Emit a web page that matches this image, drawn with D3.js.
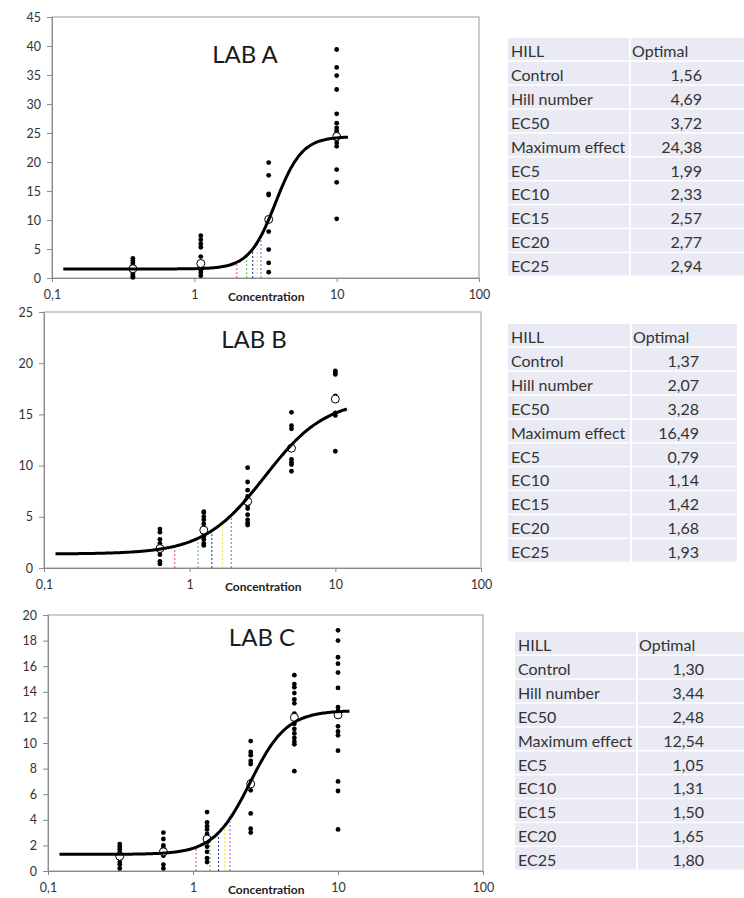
<!DOCTYPE html>
<html><head><meta charset="utf-8">
<script src="https://cdn.jsdelivr.net/npm/d3@7"></script>
<style>
html,body{margin:0;padding:0;background:#fff;}
svg{display:block;font-family:Lato, "Open Sans", sans-serif;}
</style></head>
<body>
<svg id="chart" width="744" height="898"></svg>
<script>
// ---------- data ----------
const labNames = ["LAB A", "LAB B", "LAB C"];
const controlVals = [1.56, 1.37, 1.30];
const hillVals = [4.69, 2.07, 3.44];
const ec50Vals = [3.72, 3.28, 2.48];
const maxEffectVals = [24.38, 16.49, 12.54];
const ecLevels = ["EC5", "EC10", "EC15", "EC20", "EC25"];
const ecA = [1.99, 2.33, 2.57, 2.77, 2.94];
const ecB = [0.79, 1.14, 1.42, 1.68, 1.93];
const ecC = [1.05, 1.31, 1.50, 1.65, 1.80];
const tableRowLabels = ["Control", "Hill number", "EC50", "Maximum effect", "EC5", "EC10", "EC15", "EC20", "EC25"];
const tableHeader = ["HILL", "Optimal"];

const xTickValues = [0.1, 1, 10, 100];
const xTickLabels = ["0,1", "1", "10", "100"];
const yMaxVals = [45, 25, 20];
const yStepVals = [5, 5, 2];
const curveRange = [0.12, 12];

// observed responses per concentration
const concA = [0.37, 1.11, 3.33, 10];
const obsA = [
  [3.4, 3.0, 2.6, 2.2, 1.8, 1.5, 1.2, 0.9, 0.6, 0.3, 0.1],
  [7.3, 6.6, 5.9, 5.3, 3.7, 2.0, 1.3, 0.9, 0.4],
  [19.9, 17.7, 14.5, 14.3, 10.2, 8.0, 4.9, 2.6, 1.0],
  [39.4, 36.3, 34.9, 32.5, 28.3, 26.7, 25.9, 25.4, 25.0, 23.9, 23.3, 22.7, 18.7, 16.5, 10.2]
];
const meanA = [1.6, 2.5, 10.1, 24.4];

const concB = [0.625, 1.25, 2.5, 5, 10];
const obsB = [
  [3.8, 3.5, 2.8, 2.4, 1.9, 1.7, 1.3, 0.65, 0.4],
  [5.5, 5.4, 5.0, 4.7, 4.3, 3.9, 3.4, 3.1, 2.8, 2.4, 2.2],
  [9.8, 8.4, 7.6, 7.0, 6.1, 5.8, 5.2, 4.7, 4.4, 4.2],
  [15.2, 13.9, 13.6, 10.6, 10.3, 10.1, 9.45],
  [19.25, 19.05, 18.9, 16.8, 15.15, 14.9, 11.4]
];
const meanB = [1.9, 3.7, 6.5, 11.7, 16.5];

const concC = [0.3125, 0.625, 1.25, 2.5, 5, 10];
const obsC = [
  [2.1, 1.9, 1.7, 1.45, 1.1, 0.7, 0.5, 0.2],
  [3.0, 2.5, 2.0, 1.8, 1.5, 1.2, 0.5, 0.2],
  [4.6, 3.8, 3.5, 3.25, 2.9, 2.6, 2.25, 1.9, 1.5, 1.0, 0.7],
  [10.15, 9.3, 9.05, 8.6, 8.35, 7.0, 6.7, 6.3, 4.5, 3.3, 3.0],
  [15.3, 14.6, 14.35, 13.9, 13.4, 13.1, 12.3, 11.5, 11.1, 10.75, 10.4, 10.1, 9.9, 7.8],
  [18.8, 18.0, 16.7, 16.2, 15.5, 14.3, 12.8, 12.5, 11.3, 10.9, 10.6, 9.4, 7.0, 6.25, 3.25]
];
const meanC = [1.15, 1.5, 2.5, 6.8, 12.0, 12.2];

// ---------- layout ----------
const ecColors = ["#d6456e", "#4fbf4f", "#23308f", "#e8df55", "#9a4fd6"];
const panels = [
  {x0: 52, x1: 479, yTop: 17, yBot: 278, titleX: 245, titleY: 63, conc: concA, obs: obsA, mean: meanA, ec: ecA,
   table: {x: 508, y: 38, split: 630, right: 745, valRight: 702}},
  {x0: 44, x1: 481, yTop: 312, yBot: 568, titleX: 254, titleY: 348, conc: concB, obs: obsB, mean: meanB, ec: ecB,
   table: {x: 508, y: 324, split: 631, right: 737, valRight: 699}},
  {x0: 48, x1: 483, yTop: 615, yBot: 871, titleX: 262, titleY: 646, conc: concC, obs: obsC, mean: meanC, ec: ecC,
   table: {x: 515, y: 632, split: 637, right: 745, valRight: 704}}
];
const rowH = 23.9;
const fmt = v => d3.format(".2f")(v).replace(".", ",");

const svg = d3.select("#chart");

panels.forEach((p, i) => {
  const g = svg.append("g");
  const x = d3.scaleLog().domain([0.1, 100]).range([p.x0, p.x1]);
  const y = d3.scaleLinear().domain([0, yMaxVals[i]]).range([p.yBot, p.yTop]);
  const c = controlVals[i], m = maxEffectVals[i], h = hillVals[i], e50 = ec50Vals[i];
  const hillFn = xx => c + (m - c) * Math.pow(xx, h) / (Math.pow(e50, h) + Math.pow(xx, h));

  // plot frame
  g.append("rect").attr("x", p.x0).attr("y", p.yTop).attr("width", p.x1 - p.x0).attr("height", p.yBot - p.yTop)
    .attr("fill", "none").attr("stroke", "#9a9a9a").attr("stroke-width", 1);

  // y axis
  const yTicks = d3.range(0, yMaxVals[i] + 0.001, yStepVals[i]);
  const ya = g.append("g").attr("transform", `translate(${p.x0},0)`)
    .call(d3.axisLeft(y).tickValues(yTicks).tickSize(5).tickPadding(6).tickFormat(d3.format("d")));
  ya.select(".domain").attr("stroke", "#8a8a8a");
  ya.selectAll(".tick line").attr("stroke", "#8a8a8a");
  ya.selectAll("text").attr("font-size", 12.5).attr("fill", "#333").style("font-family", "Lato, sans-serif");

  // x axis
  const xa = g.append("g").attr("transform", `translate(0,${p.yBot})`)
    .call(d3.axisBottom(x).tickValues(xTickValues).tickSize(4).tickPadding(8)
      .tickFormat((d, k) => xTickLabels[k]));
  xa.select(".domain").attr("stroke", "#8a8a8a");
  xa.selectAll(".tick line").attr("stroke", "#8a8a8a");
  xa.selectAll("text").attr("font-size", 12.5).attr("fill", "#333").style("font-family", "Lato, sans-serif");

  g.append("text").attr("x", x(3.2)).attr("y", p.yBot + 23).attr("text-anchor", "middle")
    .attr("font-size", 12).attr("font-weight", "bold").attr("fill", "#222").text("Concentration");

  // title
  g.append("text").attr("x", p.titleX).attr("y", p.titleY).attr("text-anchor", "middle")
    .attr("font-size", 24).attr("fill", "#1a1a1a").text(labNames[i]);

  // EC dashed lines
  g.selectAll(".ecline").data(p.ec).enter().append("line")
    .attr("x1", d => x(d)).attr("x2", d => x(d))
    .attr("y1", y(0)).attr("y2", d => y(hillFn(d)))
    .attr("stroke", (d, k) => ecColors[k]).attr("stroke-width", 1).attr("stroke-dasharray", "2,2");

  // observed points
  const pts = [];
  p.conc.forEach((cc, k) => p.obs[k].forEach(v => pts.push([cc, v])));
  g.selectAll(".dot").data(pts).enter().append("circle")
    .attr("cx", d => x(d[0])).attr("cy", d => y(d[1])).attr("r", 2.4).attr("fill", "#000");

  // means
  g.selectAll(".mean").data(p.conc).enter().append("circle")
    .attr("cx", d => x(d)).attr("cy", (d, k) => y(p.mean[k])).attr("r", 4)
    .attr("fill", "#fff").attr("stroke", "#000").attr("stroke-width", 1);

  // fitted curve
  const lx = d3.scaleLog().domain(curveRange);
  const curvePts = d3.range(0, 1.0001, 1 / 200).map(t => lx.invert(t));
  g.append("path").datum(curvePts)
    .attr("d", d3.line().x(d => x(d)).y(d => y(hillFn(d))).curve(d3.curveBasis))
    .attr("fill", "none").attr("stroke", "#000").attr("stroke-width", 3);

  // table
  const t = p.table;
  const values = [c, h, e50, m].concat(p.ec);
  const rows = [[tableHeader[0], tableHeader[1], true]].concat(tableRowLabels.map((l, k) => [l, fmt(values[k]), false]));
  const tg = svg.append("g");
  rows.forEach((r, k) => {
    const ry = t.y + k * rowH;
    tg.append("rect").attr("x", t.x).attr("y", ry).attr("width", t.split - t.x - 1).attr("height", rowH - 1.5).attr("fill", "#e9eaf3");
    tg.append("rect").attr("x", t.split + 1).attr("y", ry).attr("width", t.right - t.split - 1).attr("height", rowH - 1.5).attr("fill", "#e9eaf3");
    tg.append("text").attr("x", t.x + 3).attr("y", ry + 19).attr("font-size", 16).attr("fill", "#333").text(r[0]);
    if (r[2]) {
      tg.append("text").attr("x", t.split + 2).attr("y", ry + 19).attr("font-size", 16).attr("fill", "#333").text(r[1]);
    } else {
      tg.append("text").attr("x", t.valRight).attr("y", ry + 19).attr("text-anchor", "end").attr("font-size", 16).attr("fill", "#333").text(r[1]);
    }
  });
});
</script>
</body></html>
